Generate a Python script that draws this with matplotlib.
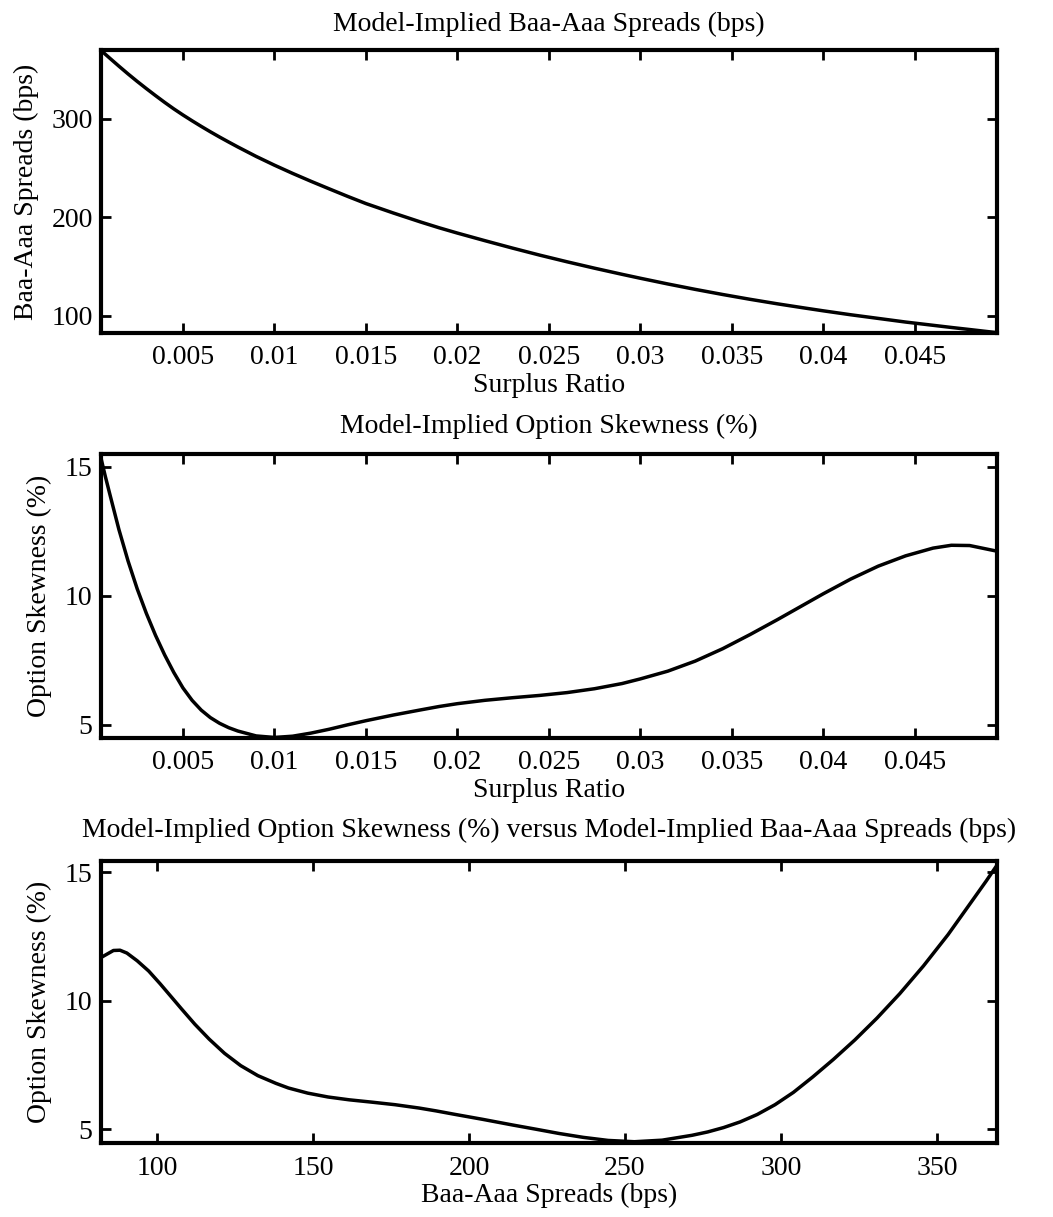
import matplotlib
matplotlib.use("Agg")
import matplotlib.pyplot as plt

# dados (razao de superavit, spreads e skewness)
surplus_ratio = [0.0005, 0.00075, 0.001, 0.0015, 0.002, 0.0025, 0.003, 0.0035, 0.004, 0.0045,
                 0.005, 0.0055, 0.006, 0.0065, 0.007, 0.0075, 0.008, 0.009, 0.010, 0.011,
                 0.012, 0.013, 0.014, 0.015, 0.0165, 0.018, 0.019, 0.020, 0.0215, 0.023,
                 0.0245, 0.026, 0.0275, 0.029, 0.030, 0.0315, 0.033, 0.0345, 0.036, 0.0375,
                 0.039, 0.040, 0.0415, 0.043, 0.0445, 0.046, 0.047, 0.048, 0.0495]
spreads = [370, 365.8, 361.7, 353.6, 345.7, 338.1, 330.8, 323.7, 316.8, 310.2,
           304, 298.1, 292.4, 286.9, 281.6, 276.5, 271.5, 261.9, 253, 244.6,
           236.6, 228.9, 221.3, 214, 204.4, 195.2, 189.4, 184, 176.3, 168.8,
           161.6, 154.8, 148.3, 142.1, 138.1, 132.3, 126.8, 121.6, 116.7, 112.1,
           107.8, 105, 101, 97.3, 93.6, 90.3, 88.1, 86.0, 82.8]
skewness = [15.4, 14.65, 13.95, 12.57, 11.35, 10.27, 9.32, 8.47, 7.71, 7.03,
            6.43, 5.95, 5.57, 5.28, 5.06, 4.89, 4.76, 4.57, 4.51, 4.56,
            4.68, 4.83, 5.0, 5.16, 5.38, 5.58, 5.71, 5.82, 5.95, 6.05,
            6.14, 6.25, 6.4, 6.6, 6.78, 7.08, 7.47, 7.95, 8.5, 9.08,
            9.68, 10.08, 10.65, 11.15, 11.55, 11.85, 11.96, 11.95, 11.73]

ratio_ticks = [0.005, 0.01, 0.015, 0.02, 0.025, 0.03, 0.035, 0.04, 0.045]
ratio_labels = ["0.005", "0.01", "0.015", "0.02", "0.025", "0.03", "0.035", "0.04", "0.045"]
spread_ticks = [100, 200, 300]
skew_ticks = [5, 10, 15]
spread_xticks = [100, 150, 200, 250, 300, 350]

plt.rcParams["font.family"] = ["Liberation Serif", "DejaVu Serif"]
plt.rcParams["font.size"] = 20
plt.rcParams["axes.linewidth"] = 3

fig = plt.figure(figsize=(10.53, 12.17), dpi=100)
left, width = 0.0959, 0.851
ax1 = fig.add_axes([left, 0.7264, width, 0.2325])
ax2 = fig.add_axes([left, 0.3936, width, 0.2334])
ax3 = fig.add_axes([left, 0.0608, width, 0.2317])


def estilo(ax):
    ax.tick_params(direction="in", length=7, width=2, top=True, right=True,
                   labelsize=20)
    ax.tick_params(axis="x", pad=9)
    ax.tick_params(axis="y", pad=6)


# grafico 1: spreads
ax1.plot(surplus_ratio, spreads, color="black", lw=2.5)
ax1.set_xlim(0.00052, 0.0495)
ax1.set_ylim(82.5, 370)
ax1.set_xticks(ratio_ticks)
ax1.set_xticklabels(ratio_labels)
ax1.set_yticks(spread_ticks)
ax1.set_title("Model-Implied Baa-Aaa Spreads (bps)", fontsize=20, pad=14)
ax1.set_xlabel("Surplus Ratio", labelpad=2)
ax1.set_ylabel("Baa-Aaa Spreads (bps)", labelpad=9)
estilo(ax1)

# grafico 2: skewness
ax2.plot(surplus_ratio, skewness, color="black", lw=2.5)
ax2.set_xlim(0.00052, 0.0495)
ax2.set_ylim(4.49, 15.5)
ax2.set_xticks(ratio_ticks)
ax2.set_xticklabels(ratio_labels)
ax2.set_yticks(skew_ticks)
ax2.set_title("Model-Implied Option Skewness (%)", fontsize=20, pad=15)
ax2.set_xlabel("Surplus Ratio", labelpad=2)
ax2.set_ylabel("Option Skewness (%)", labelpad=9)
estilo(ax2)

# grafico 3: skewness contra spreads
ax3.plot(spreads, skewness, color="black", lw=2.5)
ax3.set_xlim(82, 369.3)
ax3.set_ylim(4.46, 15.43)
ax3.set_xticks(spread_xticks)
ax3.set_yticks(skew_ticks)
ax3.set_title("Model-Implied Option Skewness (%) versus Model-Implied Baa-Aaa Spreads (bps)",
              fontsize=20, pad=17)
ax3.set_xlabel("Baa-Aaa Spreads (bps)", labelpad=2)
ax3.set_ylabel("Option Skewness (%)", labelpad=9)
estilo(ax3)

fig.savefig("out.png", dpi=100)
